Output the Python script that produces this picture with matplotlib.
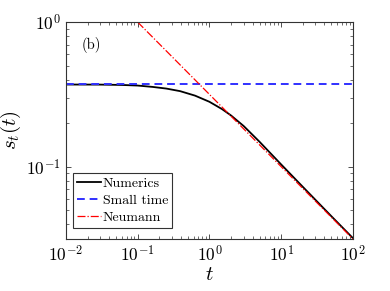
import matplotlib
matplotlib.use("Agg")
import matplotlib.pyplot as plt
from matplotlib.ticker import FixedLocator, NullFormatter

# values
t_num = [0.01, 0.03, 0.06, 0.1, 0.163, 0.25, 0.39, 0.63, 1.0, 1.5, 2.0,
         3.0, 5.0, 10.0, 20.0, 50.0, 100.0]
s_num = [0.370, 0.3695, 0.3675, 0.364, 0.356, 0.347, 0.333, 0.310, 0.281,
         0.250, 0.226, 0.191, 0.1485, 0.1035, 0.0725, 0.0454, 0.0320]
t_small = [0.01, 100.0]
s_small = [0.374, 0.374]
t_neu = [0.1, 100.0]
s_neu = [1.0, 0.0316]

xticks = [1e-2, 1e-1, 1e0, 1e1, 1e2]
xticklabels = [r"$10^{-2}$", r"$10^{-1}$", r"$10^{0}$", r"$10^{1}$", r"$10^{2}$"]
yticks = [1e-1, 1e0]
yticklabels = [r"$10^{-1}$", r"$10^{0}$"]

plt.rcParams["font.family"] = "serif"
plt.rcParams["font.serif"] = ["cmr10", "DejaVu Serif"]
plt.rcParams["mathtext.fontset"] = "cm"
plt.rcParams["axes.formatter.use_mathtext"] = True

fig = plt.figure(figsize=(3.9, 2.91), dpi=100)
ax = fig.add_axes([0.169, 0.179, 0.736, 0.745])

ax.plot(t_num, s_num, "-", color="black", lw=1.3, label="Numerics")
ax.plot(t_small, s_small, "--", color="#3030ff", lw=1.4, dashes=(4, 2.5),
        label="Small time")
ax.plot(t_neu, s_neu, "-.", color="red", lw=0.9, label="Neumann")

ax.set_xscale("log")
ax.set_yscale("log")
ax.set_xlim(1e-2, 1e2)
ax.set_ylim(10 ** -1.5, 1.0)

ax.xaxis.set_major_locator(FixedLocator(xticks))
ax.set_xticklabels(xticklabels)
ax.yaxis.set_major_locator(FixedLocator(yticks))
ax.set_yticklabels(yticklabels)
ax.xaxis.set_minor_formatter(NullFormatter())
ax.yaxis.set_minor_formatter(NullFormatter())
ax.tick_params(which="both", direction="in", top=True, right=True,
               color="0.2", labelsize=12.5)
ax.tick_params(which="major", length=3.5, width=0.6, pad=4)
ax.tick_params(which="minor", length=2, width=0.5)
for sp in ax.spines.values():
    sp.set_color("0.2")
    sp.set_linewidth(0.8)

ax.set_xlabel(r"$t$", fontsize=15, labelpad=1)
ax.set_ylabel(r"$s_t(t)$", fontsize=15, labelpad=2)
ax.text(0.087, 0.894, "(b)", transform=ax.transAxes, fontsize=10.5,
        ha="center", va="center")

leg = ax.legend(loc="lower left", bbox_to_anchor=(0.01, 0.03), fontsize=10,
                frameon=True, fancybox=False, handlelength=1.7,
                handletextpad=0.15, borderpad=0.3, labelspacing=0.3,
                borderaxespad=0.3)
leg.get_frame().set_edgecolor("black")
leg.get_frame().set_linewidth(0.8)

fig.savefig("out.png", dpi=100)
